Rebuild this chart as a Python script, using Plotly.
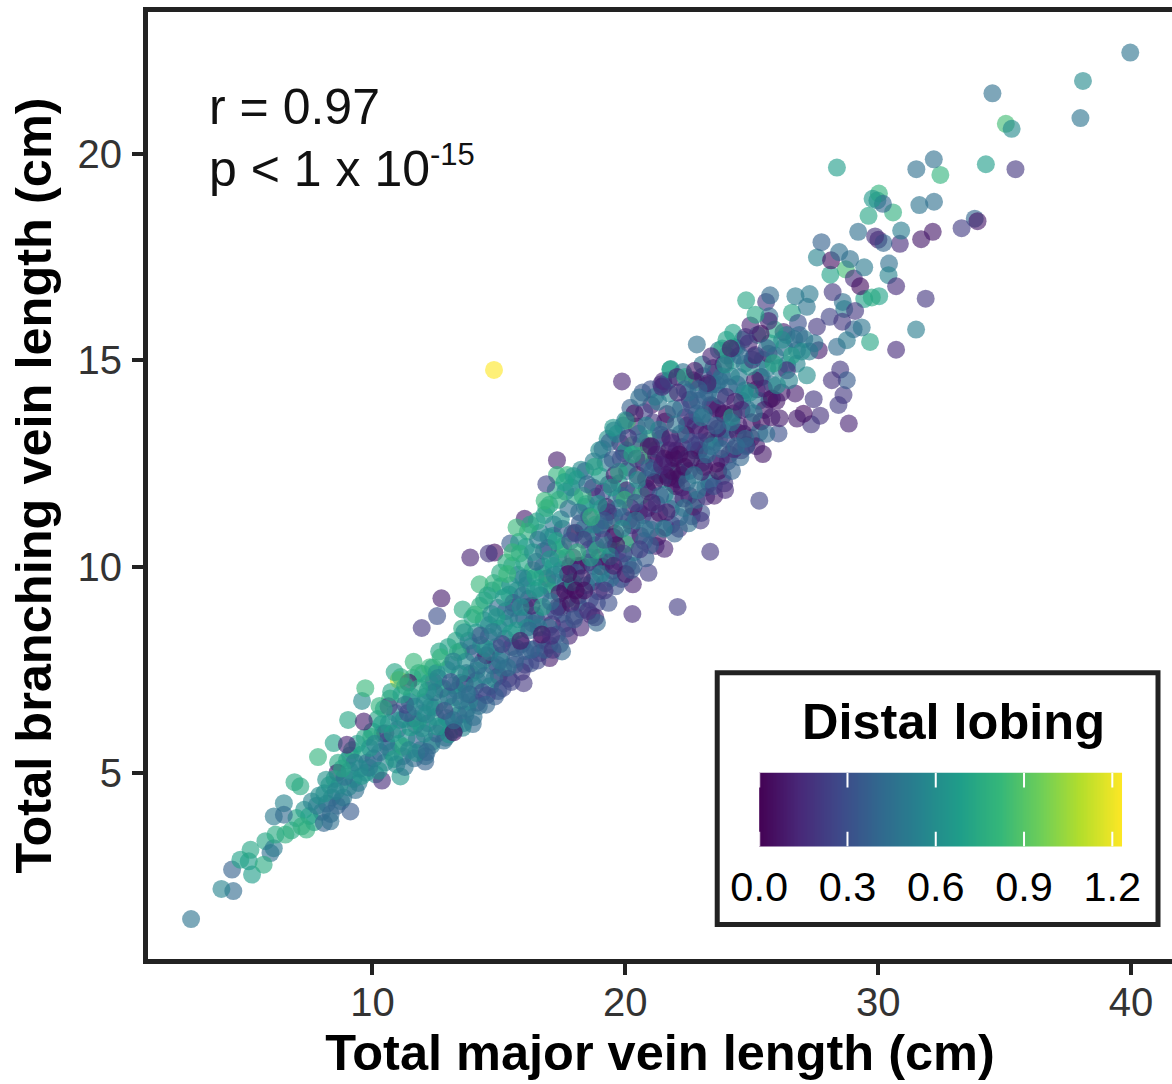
import numpy as np
import plotly.graph_objects as go

# (major vein length, branching vein length, distal lobing)
band_tail = [
(6.8,3.6,.75),(7.0,3.9,.72),(7.2,3.7,.78),(7.3,4.1,.62),(7.5,3.95,.7),(7.6,4.3,.55),(7.7,3.8,.72),(7.8,4.2,.5),(7.9,4.45,.6),(8.0,4.05,.45),
(8.1,4.5,.62),(8.2,4.25,.4),(8.3,4.7,.68),(8.35,4.0,.42),(8.4,4.4,.5),(8.5,4.85,.7),(8.55,4.55,.55),(8.6,4.2,.38),(8.7,4.7,.6),(8.8,5.1,.72),
(8.85,4.4,.48),(8.9,4.9,.45),(9.0,5.3,.7),(9.05,4.65,.55),(9.1,5.05,.62),(9.2,5.55,.75),(9.25,4.85,.6),(9.3,5.25,.5),(9.4,5.7,.66),(9.45,4.75,.52),
(9.5,5.1,.58),(9.6,5.45,.7),(9.7,5.85,.72),(9.75,5.0,.6),(9.8,5.25,.45),(9.9,5.6,.65),(10.0,6.0,.7),(10.05,5.35,.4),(10.1,5.7,.55),(10.2,6.3,.72),
(10.25,5.05,.62),(10.3,5.5,.48),(10.4,5.95,.62),(10.45,6.55,.74),(10.5,5.25,.55),(10.55,5.75,.42),(10.65,6.2,.6),(10.7,6.8,.78),(10.75,5.5,.52),(10.8,5.95,.68),
(10.9,6.45,.55),(10.95,5.2,.6),(11.0,6.05,.35),(11.05,5.7,.65),(11.15,6.9,.7),(11.2,5.4,.45),(11.25,6.3,.62),(11.3,7.1,.75),(11.35,5.85,.58),(11.4,6.45,.3),
(11.45,5.55,.55),(11.5,6.1,.68),(11.55,6.85,.6),(11.6,7.3,.8),(11.65,5.35,.42),(11.7,6.6,.55),(11.75,5.8,.35),(11.8,6.25,.7),(11.85,7.05,.72),(11.9,5.55,.5),
]
fill_a = [
(8.17,4.83,.62),(8.76,4.31,.52),(9.33,4.58,.44),(9.58,4.92,.66),(9.12,5.42,.58),(8.64,5.24,.74),(9.87,5.12,.5),(10.13,4.96,.6),(9.95,5.87,.76),(10.37,6.18,.68),
(10.62,5.62,.46),(10.86,5.33,.7),(10.28,6.62,.8),(11.09,6.28,.56),(11.22,5.63,.74),(11.47,6.72,.66),(11.73,5.48,.6),(11.28,5.14,.48),(11.96,6.08,.62),(10.74,6.96,.72),
(11.12,7.32,.78),(11.83,7.42,.74),(12.07,6.71,.58),(12.33,5.66,.5),(12.28,7.56,.82),(12.58,6.12,.66),(12.46,6.58,.34),(12.71,7.03,.7),(12.19,6.99,.6),(12.82,5.78,.44),
(12.93,6.33,.58),(12.64,7.94,.72),(13.11,7.62,.66),(13.03,5.93,.62),(13.27,6.83,.5),(13.38,7.92,.76),(13.22,6.27,.42),(13.49,7.18,.64),(13.56,6.09,.56),(13.64,8.41,.62),
(13.72,7.42,.36),(13.83,6.72,.54),(13.91,8.07,.66),(13.97,6.18,.42),(14.06,8.84,.8),(14.12,7.48,.6),(14.21,6.62,.48),(14.27,8.33,.34),(14.38,7.72,.68),(14.42,9.18,.74),
(14.53,6.88,.26),(14.61,8.58,.58),(14.66,7.93,.52),(14.73,9.42,.64),(14.82,7.28,.44),(14.91,8.78,.7),(14.98,6.98,.32),(15.08,9.52,.72),(15.12,8.12,.24),(15.18,7.52,.56),
(15.27,8.92,.46),(15.33,9.82,.82),(15.38,7.28,.18),(15.47,8.38,.66),(15.52,10.02,.7),(15.57,9.12,.28),(15.63,7.62,.34),(15.72,9.42,.62),(15.78,8.72,.48),(15.83,10.32,.76),
(15.91,8.12,.22),(15.97,9.72,.54),(16.03,7.62,.3),(16.08,10.48,.66),(16.12,8.52,.6),(16.18,9.22,.16),(16.24,11.02,.72),(16.28,7.98,.4),(16.34,9.92,.8),(16.43,8.82,.46),
(16.48,10.12,.36),(16.52,7.72,.26),(16.58,9.48,.62),(16.63,10.82,.56),(16.69,8.22,.14),(16.73,9.02,.7),(16.78,10.38,.26),(16.83,7.98,.38),(16.88,11.42,.76),(16.92,9.72,.1),
(16.98,8.52,.42),(17.03,10.18,.66),(17.09,9.42,.6),(17.13,7.98,.18),(17.17,11.02,.48),(17.22,8.92,.28),(17.28,10.62,.7),(17.33,9.02,.08),(17.38,11.62,.78),(17.42,8.12,.38),
]
fill_b = [
(17.47,9.92,.56),(17.52,10.92,.34),(17.58,8.62,.2),(17.63,11.82,.6),(17.68,10.22,.74),(17.72,9.22,.44),(17.77,8.32,.12),(17.82,10.62,.3),(17.87,11.92,.5),(17.93,9.62,.68),
(17.97,8.72,.34),(18.02,10.82,.06),(18.08,12.12,.66),(18.12,9.12,.58),(18.18,11.32,.42),(18.23,8.52,.14),(18.27,10.02,.24),(18.32,11.72,.78),(18.38,9.42,.06),(18.42,12.32,.44),
(18.48,10.72,.6),(18.53,8.92,.18),(18.57,11.22,.22),(18.62,10.22,.7),(18.68,9.62,.36),(18.72,11.92,.12),(18.78,12.42,.72),(18.82,10.52,.46),(18.88,9.12,.26),(18.93,11.52,.62),
(18.97,12.82,.6),(19.03,9.82,.56),(19.07,10.92,.08),(19.13,11.82,.3),(19.18,9.42,.2),(19.22,12.52,.52),(19.28,10.52,.74),(19.32,11.32,.16),(19.38,13.02,.38),(19.42,9.72,.42),
(19.47,11.92,.68),(19.52,10.72,.05),(19.58,12.22,.1),(19.62,9.52,.32),(19.68,13.22,.56),(19.73,11.42,.46),(19.77,10.12,.14),(19.82,12.62,.24),(19.88,10.92,.62),(19.92,13.42,.46),
(19.97,11.62,.82),(20.02,9.82,.08),(20.07,12.32,.4),(20.12,13.12,.2),(20.17,10.72,.3),(20.22,11.42,.05),(20.28,12.72,.72),(20.33,10.02,.38),(20.37,13.72,.06),(20.42,11.12,.5),
(20.48,12.22,.08),(20.53,13.22,.44),(20.57,10.42,.22),(20.63,11.72,.78),(20.68,14.22,.34),(20.73,12.52,.1),(20.78,10.92,.46),(20.83,13.42,.56),(20.88,11.42,.14),(20.93,12.92,.06),
(20.98,10.52,.36),(21.03,13.92,.1),(21.08,12.32,.42),(21.13,11.12,.24),(21.18,14.12,.5),(21.22,12.72,.1),(21.28,10.72,.06),(21.33,13.32,.52),(21.38,11.72,.36),(21.42,14.42,.2),
(21.48,12.12,.4),(21.52,10.92,.52),(21.58,13.52,.06),(21.63,11.32,.1),(21.68,12.52,.46),(21.72,14.52,.38),(21.78,13.12,.08),(21.83,11.02,.28),(21.88,12.02,.1),(21.92,13.82,.5),
(21.97,11.62,.4),(22.03,12.82,.06),(22.08,14.22,.12),(22.12,10.92,.18),(22.18,13.22,.44),(22.22,12.22,.05),(22.28,14.72,.46),(22.32,11.42,.5),(22.38,13.62,.12),(22.42,12.62,.38),
]
fill_c = [
(22.47,14.22,.44),(22.53,11.72,.1),(22.58,13.02,.3),(22.63,11.22,.26),(22.68,14.52,.08),(22.72,12.22,.5),(22.78,13.42,.16),(22.82,11.62,.42),(22.88,14.02,.4),(22.92,12.82,.06),
(22.98,11.12,.2),(23.02,13.62,.5),(23.08,14.62,.3),(23.12,12.42,.08),(23.17,11.92,.46),(23.22,13.22,.1),(23.28,14.22,.44),(23.32,12.02,.36),(23.38,13.92,.08),(23.42,12.92,.48),
(23.48,14.82,.1),(23.52,11.72,.1),(23.58,13.42,.4),(23.62,14.42,.48),(23.68,12.32,.05),(23.72,13.12,.5),(23.78,12.62,.12),(23.82,14.62,.44),(23.88,13.72,.1),(23.92,12.02,.2),
(23.98,14.12,.16),(24.03,15.12,.48),(24.08,13.32,.42),(24.12,12.72,.06),(24.18,14.62,.56),(24.22,12.32,.38),(24.28,13.72,.08),(24.33,15.32,.6),(24.38,12.92,.44),(24.42,14.42,.42),
(24.48,13.42,.1),(24.52,15.12,.42),(24.58,12.82,.14),(24.62,14.02,.5),(24.68,13.22,.06),(24.72,14.92,.5),(24.78,12.92,.36),(24.82,13.82,.46),(24.88,15.42,.14),(24.92,14.22,.6),
(24.98,13.12,.06),(25.03,15.02,.2),(25.08,13.72,.5),(25.13,14.52,.06),(25.18,12.92,.1),(25.23,15.62,.62),(25.28,14.02,.5),(25.38,13.52,.06),(25.43,15.02,.52),(25.48,14.32,.12),
(25.58,13.22,.42),(25.62,14.82,.52),(25.72,15.42,.7),(25.78,13.62,.1),(25.82,14.42,.45),(25.92,15.12,.5),(25.98,14.02,.08),(26.08,14.82,.56),(26.18,14.22,.1),(26.28,15.32,.42),
(26.38,15.62,.5),(26.48,14.52,.55),(26.58,15.12,.7),(26.68,15.52,.45),(26.78,14.92,.55),(26.88,15.62,.42),(26.98,15.22,.6),(27.08,15.52,.5),(27.28,15.22,.52),(27.48,15.42,.48),
]
fill_d = [
(14.14,7.24,.44),(14.47,8.02,.62),(14.77,8.42,.5),(14.93,7.62,.36),(15.22,8.62,.58),(15.41,9.32,.7),(15.69,8.02,.42),(15.86,9.02,.6),(16.14,9.72,.68),(16.33,8.62,.34),
(16.57,8.52,.5),(16.74,9.82,.72),(16.96,10.72,.6),(17.07,8.32,.16),(17.24,9.62,.5),(17.41,10.42,.76),(17.46,9.02,.06),(17.62,9.42,.05),(17.74,9.82,.04),(17.86,9.52,.06),
(17.94,10.22,.1),(18.04,9.42,.04),(18.14,10.02,.05),(18.28,9.72,.08),(18.36,10.92,.62),(18.46,11.52,.7),(18.58,10.42,.3),(18.66,8.82,.2),(18.74,10.02,.32),(18.84,11.02,.55),
(18.96,10.22,.14),(19.06,11.42,.66),(19.16,11.12,.36),(19.26,10.12,.06),(19.34,9.12,.3),(19.44,10.42,.2),(19.56,11.22,.28),(19.64,10.52,.06),(19.76,12.02,.64),(19.84,11.72,.4),
(19.94,10.32,.24),(20.04,12.82,.66),(20.14,11.12,.12),(20.24,9.92,.34),(20.32,11.82,.36),(20.44,12.62,.2),(20.54,11.32,.06),(20.64,13.02,.3),(20.74,10.62,.4),(20.82,12.12,.12),
(20.92,11.82,.2),(21.02,12.92,.08),(21.14,12.52,.05),(21.24,11.52,.3),(21.34,12.22,.04),(21.44,13.12,.06),(21.54,12.62,.05),(21.62,12.22,.04),(21.74,12.82,.04),(21.84,12.32,.05),
(21.94,12.62,.04),(22.04,12.12,.06),(22.14,12.72,.05),(22.24,11.92,.1),(22.34,12.42,.04),(22.44,13.42,.14),(22.52,12.32,.3),(22.62,13.92,.38),(22.74,12.82,.12),(22.84,13.72,.3),
(22.94,13.02,.22),(23.04,12.52,.4),(23.14,14.12,.32),(23.24,12.72,.42),(23.34,13.52,.14),(23.44,14.42,.4),(23.54,13.02,.44),(23.64,13.82,.1),(23.74,14.52,.46),(23.84,13.32,.42),
(15.04,7.72,.5),(13.74,6.92,.48),(13.24,7.12,.62),(12.54,7.42,.64),(12.14,6.42,.6),(11.62,6.32,.46),(16.42,9.42,.66),(16.04,9.02,.58),(17.16,10.02,.64),(19.54,10.02,.1),
]
band_low = [
(12.0,7.4,.78),(12.0,6.45,.5),(12.05,5.95,.6),(12.1,6.85,.65),(12.15,5.5,.4),(12.2,6.2,.3),(12.25,7.2,.7),(12.3,6.6,.6),(12.35,5.75,.55),(12.4,7.55,.75),
(12.45,6.95,.45),(12.5,6.35,.62),(12.55,5.95,.38),(12.6,7.3,.55),(12.65,6.7,.68),(12.7,7.8,.8),(12.75,6.1,.35),(12.8,7.05,.58),(12.85,6.5,.25),(12.9,5.85,.5),
(12.95,7.5,.62),(13.0,6.85,.42),(13.0,8.05,.7),(13.05,6.25,.6),(13.1,7.2,.3),(13.15,6.6,.66),(13.2,7.7,.52),(13.25,6.05,.4),(13.3,8.2,.72),(13.35,7.0,.58),
(13.4,6.4,.32),(13.45,7.4,.62),(13.5,6.75,.45),(13.5,7.95,.55),(13.55,8.5,.75),(13.6,6.2,.52),(13.65,7.15,.22),(13.7,7.7,.6),(13.75,6.55,.6),(13.8,8.2,.48),
(13.85,6.9,.36),(13.9,7.4,.7),(13.95,8.75,.7),(14.0,6.35,.45),(14.0,7.9,.3),(14.05,7.1,.55),(14.1,8.4,.62),(14.15,6.7,.2),(14.2,7.6,.42),(14.25,9.05,.78),
(14.3,8.1,.55),(14.35,6.95,.3),(14.4,8.7,.65),(14.45,7.35,.5),(14.5,6.65,.4),(14.5,7.85,.1),(14.55,9.3,.72),(14.6,8.3,.38),(14.65,7.1,.58),(14.7,8.85,.6),
(14.75,7.6,.25),(14.8,9.6,.8),(14.85,6.85,.35),(14.9,8.05,.52),(14.95,9.0,.42),(15.0,7.35,.08),(15.0,8.5,.62),(15.05,9.85,.75),(15.1,7.85,.4),(15.15,7.05,.28),
(15.2,9.25,.68),(15.25,8.25,.3),(15.3,10.1,.78),(15.35,7.55,.45),(15.4,8.75,.55),(15.45,9.55,.62),(15.5,8.05,.12),(15.5,7.2,.25),(15.55,10.35,.82),(15.6,9.0,.35),
(15.65,7.75,.38),(15.7,8.45,.65),(15.75,9.8,.58),(15.8,10.6,.7),(15.85,8.2,.08),(15.9,7.45,.2),(15.95,9.3,.48),(16.0,8.75,.3),(16.0,10.1,.72),(16.05,7.95,.35),
]
band_mid = [
(16.1,9.55,.55),(16.15,10.85,.78),(16.2,8.45,.42),(16.25,7.65,.3),(16.3,9.05,.1),(16.35,10.35,.62),(16.4,8.0,.28),(16.45,9.75,.7),(16.5,8.7,.25),(16.5,11.1,.72),
(16.55,10.65,.5),(16.6,7.9,.15),(16.65,9.3,.4),(16.7,8.35,.05),(16.75,10.0,.62),(16.8,11.25,.66),(16.85,8.9,.3),(16.9,9.55,.75),(16.95,10.45,.38),(17.0,8.1,.2),
(17.0,11.5,.68),(17.05,9.15,.45),(17.1,8.6,.12),(17.15,10.75,.6),(17.2,9.8,.55),(17.25,11.85,.72),(17.3,8.35,.32),(17.35,10.2,.28),(17.4,9.35,.08),(17.45,11.15,.62),
(17.5,8.85,.35),(17.55,10.5,.82),(17.6,12.05,.7),(17.65,9.6,.42),(17.7,8.5,.25),(17.75,11.4,.45),(17.8,10.0,.12),(17.85,9.1,.05),(17.9,10.8,.55),(17.95,12.2,.62),
(18.0,8.8,.2),(18.0,11.7,.72),(18.05,9.85,.38),(18.1,10.35,.78),(18.15,9.3,.1),(18.2,11.05,.35),(18.25,12.35,.58),(18.3,8.95,.3),(18.35,10.65,.22),(18.4,11.45,.6),
(18.45,9.55,.48),(18.5,12.0,.42),(18.55,10.1,.06),(18.6,9.2,.28),(18.65,11.2,.8),(18.7,10.8,.16),(18.75,12.55,.52),(18.8,9.75,.55),(18.85,11.7,.3),(18.9,10.4,.75),
(18.95,9.4,.12),(19.0,12.2,.66),(19.0,11.0,.45),(19.05,10.0,.05),(19.1,12.85,.48),(19.15,10.65,.32),(19.2,9.6,.38),(19.25,11.45,.1),(19.3,13.1,.62),(19.35,12.0,.2),
(19.4,10.25,.6),(19.45,11.1,.78),(19.5,9.9,.15),(19.5,12.6,.35),(19.55,13.3,.42),(19.6,10.8,.08),(19.65,11.65,.55),(19.7,10.35,.25),(19.75,12.3,.72),(19.8,13.0,.1),
(19.85,9.7,.3),(19.9,11.2,.4),(19.95,12.75,.3),(20.0,10.55,.82),(20.0,13.55,.55),(20.05,11.85,.1),(20.1,10.05,.42),(20.15,12.4,.8),(20.2,13.85,.38),(20.25,11.0,.15),
]
band_high = [
(20.3,12.95,.85),(20.35,10.35,.5),(20.4,11.55,.3),(20.45,13.4,.12),(20.5,12.1,.62),(20.55,14.1,.45),(20.6,10.75,.08),(20.65,12.7,.82),(20.7,11.25,.2),(20.75,13.75,.25),
(20.8,10.2,.35),(20.85,11.9,.05),(20.9,13.1,.78),(20.95,12.4,.4),(21.0,14.3,.3),(21.0,10.9,.45),(21.05,11.55,.1),(21.1,13.5,.18),(21.15,12.05,.06),(21.2,10.5,.12),
(21.25,12.85,.52),(21.3,14.0,.5),(21.35,11.3,.05),(21.4,13.2,.35),(21.45,12.45,.12),(21.5,14.5,.12),(21.55,11.75,.6),(21.6,10.95,.3),(21.65,13.7,.08),(21.7,12.15,.05),
(21.75,14.2,.55),(21.8,11.4,.42),(21.85,13.0,.15),(21.9,12.65,.08),(21.95,10.8,.38),(22.0,13.45,.48),(22.0,11.95,.05),(22.05,14.6,.1),(22.1,12.3,.6),(22.15,11.2,.35),
(22.2,13.85,.28),(22.25,12.9,.1),(22.3,11.65,.12),(22.35,14.3,.4),(22.4,13.2,.06),(22.45,12.05,.45),(22.5,11.05,.45),(22.55,14.05,.05),(22.6,12.6,.05),(22.65,13.55,.42),
(22.7,11.45,.05),(22.75,14.75,.08),(22.8,12.95,.35),(22.85,11.85,.48),(22.9,14.3,.4),(22.95,13.3,.12),(23.0,12.3,.1),(23.0,11.3,.3),(23.05,14.9,.5),(23.1,13.7,.45),
(23.15,12.7,.42),(23.2,11.7,.15),(23.25,14.45,.1),(23.3,13.05,.55),(23.35,12.1,.5),(23.4,15.1,.12),(23.45,13.9,.18),(23.5,11.95,.3),(23.55,14.7,.38),(23.6,12.5,.08),
(23.65,13.35,.1),(23.7,15.25,.5),(23.75,14.15,.45),(23.8,12.85,.42),(23.85,12.2,.4),(23.9,13.7,.05),(23.95,14.9,.65),(24.0,13.1,.2),(24.0,15.5,.7),(24.05,12.55,.35),
(24.1,14.35,.42),(24.2,13.5,.48),(24.25,15.0,.58),(24.3,12.85,.12),(24.35,14.0,.1),(24.4,15.3,.45),(24.45,13.25,.08),(24.5,14.6,.5),(24.55,12.65,.4),(24.6,13.8,.12),
(24.65,15.5,.55),(24.7,14.2,.55),(24.75,13.1,.42),(24.8,12.95,.05),(24.9,14.85,.62),(24.95,15.85,.12),(25.0,13.5,.1),(25.1,15.1,.48),(25.2,14.3,.08),(25.3,13.25,.45),
(25.35,15.65,.05),(25.4,14.6,.52),(25.5,13.8,.1),(25.6,15.3,.38),(25.7,14.05,.05),(25.9,15.75,.72),(26.0,14.4,.6),(26.1,13.6,.1),(26.2,15.5,.6),(26.4,14.9,.5),
]
lower_edge = [
(2.83,1.45,.47),(4.03,2.18,.55),(4.5,2.13,.42),(4.45,2.65,.38),(5.24,2.53,.68),(5.11,2.85,.68),(4.78,2.89,.7),(5.7,2.77,.75),(5.97,3.05,.45),(5.18,3.13,.72),
(5.77,3.34,.72),(6.56,3.5,.78),(6.17,3.5,.75),(7.39,3.62,.8),(6.1,3.17,.5),(6.5,3.98,.42),(6.1,3.94,.5),(6.5,4.26,.55),(6.92,4.77,.75),(7.15,4.67,.75),
(7.85,5.38,.8),(8.47,5.72,.7),(8.62,5.0,.08),(8.99,5.68,.12),(9.13,4.06,.35),(8.08,3.78,.4),(8.34,3.82,.45),(10.38,4.81,.15),(11.11,4.91,.65),(12.09,5.27,.38),
(12.1,5.4,.42),(9.72,7.05,.82),(9.59,6.74,.58),(9.04,6.28,.72),(10.88,7.44,.72),(11.04,7.25,1.15),(11.42,7.19,.05),(11.63,7.69,.82),(10.64,6.61,.2),(11.3,6.65,.25),
(12.42,7.21,.12),(13.68,6.41,.5),(13.21,5.98,.05),(11.7,6.16,.25),(10.51,5.96,.2),(9.66,6.24,.1),
]
mid_edge = [
(14.81,14.77,1.25),(19.87,14.49,.12),(21.8,14.79,.68),(20.07,13.54,.85),(19.52,13.37,.65),(21.52,14.4,.15),(17.3,12.58,.1),(16.88,12.0,.25),(17.7,12.22,.8),(17.3,12.22,.8),
(16.81,11.6,.82),(16.02,11.16,.1),(15.7,10.95,.82),(13.87,10.22,.12),(14.83,10.34,.05),(14.6,10.32,.2),(15.45,10.56,.35),(14.24,9.57,.82),(12.73,9.23,.1),(12.56,8.8,.3),
(11.95,8.51,.2),(13.57,8.96,.75),(23.36,10.36,.2),(21.55,10.43,.12),(20.92,9.85,.22),(20.3,9.57,.12),(22.07,9.02,.22),(20.28,8.85,.15),(18.81,8.77,.1),(18.88,8.64,.4),
(17.01,7.78,.1),(17.5,7.94,.4),(15.98,7.17,.2),(25.3,11.6,.25),(23.95,11.86,.15),
]
top_scatter = [
(39.97,22.47,.47),(38.1,21.78,.58),(38.0,20.88,.47),(34.52,21.48,.45),(35.05,20.74,.85),(35.28,20.62,.58),(28.37,19.68,.68),(32.2,19.88,.45),(31.51,19.64,.45),(32.46,19.5,.8),
(34.26,19.76,.68),(35.43,19.64,.2),(31.63,18.77,.47),(32.21,18.85,.45),(33.82,18.44,.4),(33.93,18.38,.08),(33.3,18.21,.22),(30.03,19.05,.8),(29.78,18.92,.65),(29.97,18.88,.6),
(30.19,18.8,.4),(29.62,18.51,.72),(30.59,18.59,.78),(29.21,18.12,.45),(30.91,18.15,.52),(32.16,18.12,.08),(31.7,17.94,.08),(29.88,18.01,.18),(30.01,17.93,.1),(30.21,17.85,.4),
(30.86,17.83,.15),(27.76,17.87,.38),(28.46,17.63,.45),(27.58,17.5,.55),(28.14,17.43,.05),(28.89,17.46,.45),(29.45,17.26,.5),(30.43,17.35,.45),(28.72,17.21,.85),(28.11,17.08,.7),
(30.41,17.07,.55),(29.04,16.99,.15),(29.29,16.8,.05),(30.71,16.8,.15),(28.2,16.66,.2),(30.04,16.56,.7),(29.75,16.53,.75),(29.45,16.49,.7),(31.88,16.5,.2),(28.6,16.42,.45),
(28.66,16.25,.52),(25.73,16.58,.42),(24.78,16.46,.72),(26.73,16.56,.5),(27.29,16.61,.5),(25.57,16.42,.2),(27.18,16.3,.48),(25.15,16.11,.72),(25.7,16.07,.42),(25.67,15.96,.12),
(26.59,16.16,.72),(29.09,16.2,.2),(28.08,16.06,.25),(26.83,15.91,.3),(27.58,15.82,.2),(28.58,15.94,.2),(29.03,15.76,.4),(29.35,15.8,.48),(31.5,15.75,.52),(29.68,15.45,.72),
(30.71,15.26,.15),(22.83,15.39,.45),(24.26,15.67,.7),(24.76,15.57,.2),(26.26,15.69,.1),(23.83,15.29,.72),(24.17,15.29,.08),(25.67,15.16,.1),(25.14,15.13,.12),(26.79,15.25,.42),
(28.37,15.33,.42),(28.76,15.49,.5),(27.65,15.25,.1),(23.89,14.91,.15),(25.86,14.93,.72),(28.5,14.78,.2),(26.39,14.76,.15),(27.18,14.64,.6),(28.76,14.52,.35),(28.17,14.52,.18),
(25.34,14.6,.1),(21.78,14.78,.7),(22.37,14.6,.72),(22.83,14.48,.75),(23.23,14.4,.1),(21.45,14.36,.15),(28.63,14.16,.2),(27.45,14.06,.2),(28.43,13.92,.22),(26.72,14.2,.1),
(25.8,14.08,.05),(27.71,13.66,.18),(27.05,13.71,.05),(26.79,13.59,.1),(27.35,13.45,.2),(28.84,13.47,.12),(25.44,12.73,.08),(26.06,13.23,.3),(24.22,13.63,.7),(24.74,14.28,.65),
]
x_ticks = [10, 20, 30, 40]
y_ticks = [5, 10, 15, 20]
legend_ticks = [0.0, 0.3, 0.6, 0.9, 1.2]
legend_tick_text = ["0.0", "0.3", "0.6", "0.9", "1.2"]
lobing_max = 1.233

points = band_tail + fill_a + fill_b + fill_c + fill_d + band_low + band_mid + band_high + lower_edge + mid_edge + top_scatter
# draw in a mixed order so that colours interleave, as in the reference
order = sorted(range(len(points)), key=lambda i: (i * 37) % 101)
xs = [points[i][0] for i in order]
ys = [points[i][1] for i in order]
cs = [points[i][2] for i in order]

W, H = 1172, 1084
# inner plot edges: the 5 px axis lines sit just outside these
L, R, T, B = 147.5, 1172, 11.5, 959.5
XR = [10 + (L - 372) / 25.3, 10 + (R - 372) / 25.3]
YR = [5 - (B - 773) / 41.27, 20 + (154 - T) / 41.27]
px = lambda v: (v - L) / (R - L)
py = lambda v: (B - v) / (B - T)
FONT = "Liberation Sans"
DARK = "#222222"

fig = go.Figure()
fig.add_trace(go.Scatter(
    x=xs, y=ys, mode="markers", showlegend=False, hoverinfo="skip",
    marker=dict(size=18, color=cs, colorscale="Viridis", cmin=0, cmax=lobing_max,
                opacity=0.62, line=dict(width=0), showscale=False),
))
legend_vals = np.linspace(0, lobing_max, 256)
fig.add_trace(go.Heatmap(
    x=legend_vals, y=[0, 1], z=[legend_vals, legend_vals], xaxis="x2", yaxis="y2",
    colorscale="Viridis", zmin=0, zmax=lobing_max, showscale=False, hoverinfo="skip",
))
shapes = [dict(type="rect", xref="paper", yref="paper", x0=px(717), x1=px(1158), y0=py(925), y1=py(673),
               fillcolor="white", line=dict(color=DARK, width=5), layer="below")]
for t in legend_ticks:
    for a, b in ((0, 0.2), (0.8, 1)):
        shapes.append(dict(type="line", xref="x2", yref="y2", x0=t, x1=t, y0=a, y1=b,
                           line=dict(color="white", width=2), layer="above"))
annotations = [
    dict(text="r = 0.97", x=px(207), y=py(107), xref="paper", yref="paper", xanchor="left", yanchor="middle",
         showarrow=False, font=dict(size=50, color="#111111", family=FONT)),
    dict(text='p < 1 x 10<sup><span style="font-size:31px">-15</span></sup>', x=px(207), y=py(167), xref="paper", yref="paper", xanchor="left", yanchor="middle",
         showarrow=False, font=dict(size=50, color="#111111", family=FONT)),
    dict(text="<b>Distal lobing</b>", x=px(953), y=py(722), xref="paper", yref="paper", xanchor="center", yanchor="middle",
         showarrow=False, font=dict(size=50.5, color="black", family=FONT)),
]
fig.update_layout(
    width=W, height=H, autosize=False, margin=dict(l=L, r=W - R, t=T, b=H - B, pad=0, autoexpand=False),
    paper_bgcolor="white", plot_bgcolor="rgba(0,0,0,0)", font=dict(family=FONT),
    shapes=shapes, annotations=annotations,
    xaxis=dict(range=XR, domain=[0, 1], tickvals=x_ticks, ticks="outside", ticklen=11, tickwidth=4,
               tickcolor=DARK, tickfont=dict(size=40, color="#333333", family=FONT), ticklabelstandoff=-7,
               showline=True, linecolor=DARK, linewidth=5, mirror=True, showgrid=False, zeroline=False,
               title=dict(text="<b>Total major vein length (cm)</b>", font=dict(size=50.5, color="black", family=FONT), standoff=12)),
    yaxis=dict(range=YR, domain=[0, 1], tickvals=y_ticks, ticks="outside", ticklen=11, tickwidth=4,
               tickcolor=DARK, tickfont=dict(size=40, color="#333333", family=FONT), ticklabelstandoff=2,
               showline=True, linecolor=DARK, linewidth=5, showgrid=False, zeroline=False,
               title=dict(text="<b>Total branching vein length (cm)</b>", font=dict(size=50.5, color="black", family=FONT), standoff=11)),
    xaxis2=dict(anchor="y2", domain=[px(759), px(1122)], range=[0, lobing_max], tickvals=legend_ticks, ticktext=legend_tick_text,
                ticks="outside", ticklen=4, tickcolor="rgba(0,0,0,0)", tickfont=dict(size=41.5, color="black", family=FONT),
                showgrid=False, zeroline=False, showline=False),
    yaxis2=dict(anchor="x2", domain=[py(847), py(773)], range=[0, 1], visible=False, showgrid=False, zeroline=False),
)
fig.write_html("out.html", config={"displayModeBar": False}, post_script="document.body.style.margin='0';")
